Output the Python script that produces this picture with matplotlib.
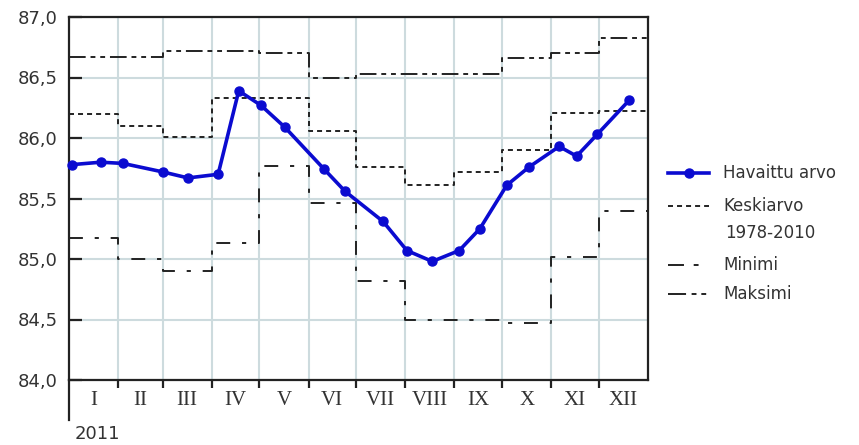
import numpy as np
import pandas as pd
import matplotlib
matplotlib.use("Agg")
import matplotlib.pyplot as plt
from matplotlib.lines import Line2D

# Observed values (Havaittu arvo) for 2011
obs_dates = ["2011-01-03", "2011-01-21", "2011-02-04", "2011-03-01", "2011-03-17",
             "2011-04-05", "2011-04-18", "2011-05-02", "2011-05-17", "2011-06-11",
             "2011-06-24", "2011-07-18", "2011-08-02", "2011-08-18", "2011-09-04",
             "2011-09-17", "2011-10-04", "2011-10-18", "2011-11-06", "2011-11-17",
             "2011-11-30", "2011-12-20"]
obs_values = [85.78, 85.80, 85.79, 85.72, 85.67, 85.70, 86.39, 86.27, 86.09, 85.74,
              85.56, 85.31, 85.07, 84.98, 85.07, 85.25, 85.61, 85.76, 85.93, 85.85,
              86.03, 86.31]

# Monthly statistics 1978-2010
months = ["I", "II", "III", "IV", "V", "VI", "VII", "VIII", "IX", "X", "XI", "XII"]
mean_vals = [86.20, 86.10, 86.01, 86.33, 86.33, 86.06, 85.76, 85.61, 85.72, 85.90, 86.21, 86.22]
min_vals = [85.17, 85.00, 84.90, 85.13, 85.77, 85.46, 84.82, 84.50, 84.50, 84.47, 85.02, 85.40]
max_vals = [86.67, 86.67, 86.72, 86.72, 86.70, 86.50, 86.53, 86.53, 86.53, 86.66, 86.70, 86.83]

y_ticks = [84.0, 84.5, 85.0, 85.5, 86.0, 86.5, 87.0]
year_label = "2011"
legend_labels = ["Havaittu arvo", "Keskiarvo\n1978-2010", "Minimi", "Maksimi"]

plt.rcParams["lines.scale_dashes"] = False

W, H = 859, 445
fig = plt.figure(figsize=(W / 100, H / 100), dpi=100)
fig.patch.set_facecolor("white")


def fx(px):
    return px / W


def fy(py):
    return 1 - py / H


L, R, T, B = 69, 648, 17, 380
ax = fig.add_axes([fx(L), fy(B), fx(R) - fx(L), fy(T) - fy(B)])

# day-of-year positions
start = pd.Timestamp("2011-01-01")
x_obs = np.array([(pd.Timestamp(d) - start).days for d in obs_dates], dtype=float)
month_starts = pd.date_range("2011-01-01", "2012-01-01", freq="MS")
edges = np.array([(d - start).days for d in month_starts], dtype=float)
centers = (edges[:-1] + edges[1:]) / 2

BLUE = "#0b0bd0"
DARK = "#222222"
GRID = "#cddbde"
TXT = "#333333"

dash_mean = (0, (3.6, 2.9))
dash_min = (0, (10.0, 8.5, 3.0, 8.5))
dash_max = (0, (12.0, 3.5, 3.5, 3.5, 3.5, 3.5))


def step(vals, ls):
    ax.step(edges, list(vals) + [vals[-1]], where="post", color=DARK,
            lw=1.4, linestyle=ls, zorder=2)


step(mean_vals, dash_mean)
step(min_vals, dash_min)
step(max_vals, dash_max)

ax.plot(x_obs, obs_values, color=BLUE, lw=2.6, marker="o", ms=6.5,
        markeredgecolor=BLUE, zorder=4, clip_on=False)

ax.set_xlim(edges[0], edges[-1])
ax.set_ylim(84.0, 87.0)

ax.set_xticks(edges[1:-1])
ax.set_xticklabels([])
ax.set_xticks(centers, minor=True)
ax.set_xticklabels(months, minor=True, family="Liberation Serif", fontsize=15, color=TXT)
ax.tick_params(axis="x", which="major", direction="out", length=6, width=1.6, color=DARK)
ax.tick_params(axis="x", which="minor", length=0, pad=8)

ax.set_yticks(y_ticks)
ax.set_yticklabels([f"{v:.1f}".replace(".", ",") for v in y_ticks],
                   fontsize=13, color=TXT)
ax.tick_params(axis="y", direction="in", length=9, width=1.6, color=DARK, pad=8)

ax.grid(True, which="major", color=GRID, lw=1.5, zorder=0)
ax.set_axisbelow(True)

for s in ax.spines.values():
    s.set_color(DARK)
    s.set_linewidth(1.6)

# extension of the left axis line below the month labels
ax.add_line(Line2D([0, 0], [0, -40 / (B - T)], transform=ax.transAxes,
                   color=DARK, lw=1.6, clip_on=False))

fig.text(fx(75), fy(434), year_label, fontsize=13, color=TXT, va="center", ha="left")

# legend
hx0, hx1, tx = 668, 709, 723
rows = [173, 206, 265, 294]
styles = [
    dict(color=BLUE, lw=2.6, ls="-"),
    dict(color=DARK, lw=1.4, ls=dash_mean),
    dict(color=DARK, lw=1.4, ls=(0, (11.5, 7.0, 3.5, 20))),
    dict(color=DARK, lw=1.4, ls=(0, (13.0, 4.0, 3.5, 3.5, 3.5, 20))),
]
for i, (yy, st, lab) in enumerate(zip(rows, styles, legend_labels)):
    fig.add_artist(Line2D([fx(hx0), fx(hx1)], [fy(yy), fy(yy)], transform=fig.transFigure, **st))
    if i == 0:
        fig.add_artist(Line2D([fx((hx0 + hx1) / 2)], [fy(yy)], transform=fig.transFigure,
                              marker="o", ms=6.5, color=BLUE, lw=0))
    if "\n" in lab:
        first, second = lab.split("\n")
        fig.text(fx(tx), fy(yy), first, fontsize=12, color=TXT, va="center", ha="left")
        fig.text(fx(tx + 2), fy(yy + 27), second, fontsize=12, color=TXT, va="center", ha="left")
    else:
        fig.text(fx(tx), fy(yy), lab, fontsize=12, color=TXT, va="center", ha="left")

fig.savefig("out.png", dpi=100, facecolor="white")
